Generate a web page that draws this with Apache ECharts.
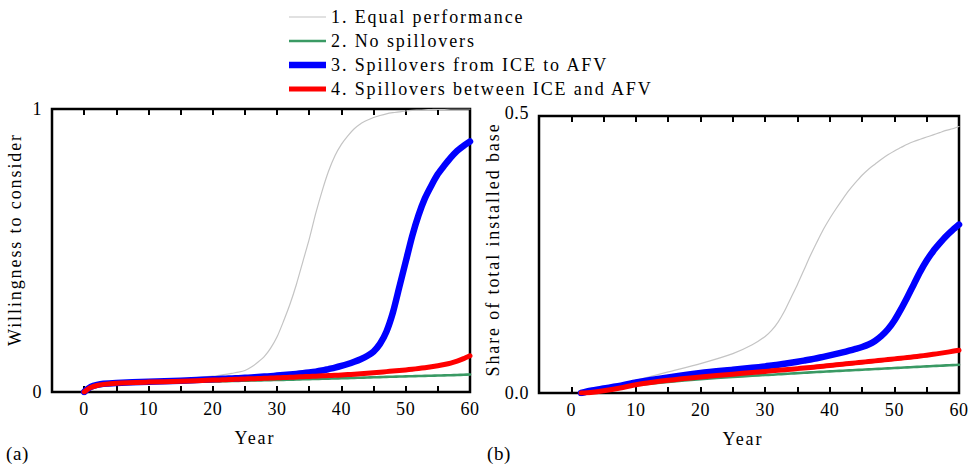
<!DOCTYPE html>
<html><head><meta charset="utf-8">
<script src="https://cdn.jsdelivr.net/npm/echarts@6/dist/echarts.min.js"></script>
<style>html,body{margin:0;padding:0;background:#fff}#c{width:978px;height:469px}</style>
</head><body><div id="c"></div>
<script>
const SERIES_NAMES = ['1. Equal performance','2. No spillovers','3. Spillovers from ICE to AFV','4. Spillovers between ICE and AFV'];
const X_TICK_LABELS = ['0','10','20','30','40','50','60'];
const Y_TICK_LABELS_A = ['0','1'];
const Y_TICK_LABELS_B = ['0.0','0.5'];

const YEARS_A = [0,0.5,1,2,3,5,10,15,20,21,22,23,24,25,26,27,28,29,30,31,32,33,34,35,36,37,38,39,40,41,42,43,44,45,46,47,48,49,50,51,52,53,54,55,56,57,58,59,60];
const EQUAL_A = [0,0.01,0.017,0.024,0.028,0.032,0.038,0.045,0.056,0.059,0.062,0.066,0.07,0.076,0.088,0.105,0.125,0.155,0.195,0.25,0.31,0.38,0.46,0.54,0.63,0.71,0.78,0.835,0.875,0.905,0.93,0.948,0.96,0.97,0.977,0.983,0.987,0.99,0.993,0.995,0.996,0.997,0.998,0.999,0.999,1,1,1,1];
const NOSPILL_A = [0,0.009,0.015,0.022,0.025,0.028,0.032,0.035,0.037,0.0376,0.0382,0.0388,0.0394,0.04,0.0405,0.041,0.0415,0.042,0.0425,0.043,0.0436,0.0442,0.0448,0.0454,0.046,0.0466,0.0472,0.0478,0.0485,0.0492,0.0499,0.0506,0.0513,0.052,0.0527,0.0534,0.054,0.0546,0.0552,0.0558,0.0564,0.057,0.0576,0.0582,0.0588,0.0594,0.06,0.061,0.062];
const ICE2AFV_A = [0,0.01,0.018,0.025,0.029,0.032,0.036,0.04,0.045,0.046,0.047,0.048,0.049,0.05,0.0515,0.053,0.0545,0.056,0.058,0.06,0.062,0.064,0.0665,0.069,0.072,0.076,0.081,0.086,0.092,0.099,0.107,0.116,0.127,0.143,0.17,0.213,0.28,0.37,0.46,0.55,0.625,0.685,0.73,0.77,0.8,0.828,0.852,0.87,0.885];
const BETWEEN_A = [0,0.009,0.016,0.023,0.027,0.031,0.035,0.038,0.042,0.0428,0.0436,0.0444,0.0452,0.046,0.0468,0.0476,0.0484,0.0492,0.05,0.051,0.052,0.053,0.054,0.055,0.056,0.057,0.058,0.059,0.06,0.0615,0.063,0.0645,0.066,0.068,0.07,0.072,0.074,0.076,0.078,0.0805,0.083,0.086,0.0895,0.093,0.097,0.102,0.109,0.118,0.128];

const YEARS_B = [1.5,3,5,8,10,15,20,25,28,30,31,32,33,34,35,36,37,38,39,40,41,42,43,44,45,46,47,48,49,50,51,52,53,54,55,56,57,58,59,60];
const EQUAL_B = [0,0.004,0.009,0.017,0.023,0.038,0.053,0.071,0.087,0.102,0.113,0.128,0.148,0.172,0.196,0.222,0.248,0.272,0.295,0.315,0.333,0.35,0.366,0.38,0.393,0.404,0.413,0.422,0.43,0.437,0.443,0.449,0.454,0.458,0.462,0.466,0.47,0.474,0.477,0.481];
const NOSPILL_B = [0,0.003,0.006,0.011,0.014,0.02,0.025,0.029,0.031,0.0325,0.033,0.0338,0.0345,0.0352,0.0358,0.0365,0.0372,0.0378,0.0384,0.039,0.0396,0.0402,0.0408,0.0414,0.042,0.0426,0.0432,0.0438,0.0444,0.045,0.0456,0.0462,0.0468,0.0474,0.048,0.0486,0.0492,0.0498,0.0504,0.051];
const ICE2AFV_B = [0,0.004,0.008,0.014,0.019,0.028,0.036,0.042,0.0455,0.048,0.0495,0.051,0.0528,0.0546,0.0565,0.0585,0.0605,0.0628,0.0652,0.0678,0.0705,0.0733,0.0763,0.0795,0.083,0.0875,0.094,0.103,0.115,0.131,0.151,0.173,0.196,0.219,0.239,0.256,0.27,0.283,0.294,0.304];
const BETWEEN_B = [0,0.001,0.004,0.01,0.015,0.023,0.029,0.034,0.037,0.039,0.04,0.041,0.042,0.043,0.044,0.045,0.046,0.0472,0.0484,0.0496,0.0508,0.052,0.0532,0.0544,0.0556,0.0568,0.058,0.0592,0.0604,0.0616,0.0628,0.064,0.0653,0.0667,0.0682,0.0698,0.0715,0.0733,0.0752,0.0772];

const FONT = '"Liberation Serif", "DejaVu Serif", serif';
const COLORS = ['#c4c4c4','#3a9a64','#0000ff','#ff0000'];
const WIDTHS = [1.2,2.6,6.5,5];
const LEGEND_ICONS = ['path://M0,0H37V1.2H0Z','path://M0,0H37V2.6H0Z','path://M0,0H37V6.5H0Z','path://M0,0H37V5H0Z'];

function pairs(xs, ys){ return xs.map((x,i)=>[x, ys[i]]); }

const chart = echarts.init(document.getElementById('c'), null, {renderer:'svg'});

function xAxisFor(gridIndex, top){
  return {
    type:'value', gridIndex, position: top ? 'top' : 'bottom',
    min:-5, max:60, interval:5,
    name: top ? '' : 'Year', nameLocation:'middle', nameGap:37,
    nameTextStyle:{fontFamily:FONT, fontSize:18, color:'#000', padding:[0,12,0,0]},
    axisLine:{show:false},
    axisTick:{show:true, inside:true, length:6, lineStyle:{color:'#000', width:2}},
    axisLabel:{show:!top, fontFamily:FONT, fontSize:18, color:'#000', margin:8,
      formatter:v=>{ const s=String(v); return X_TICK_LABELS.includes(s) ? s : ''; }},
    splitLine:{show:false}
  };
}
function yAxisFor(gridIndex, max, labels, name, gap, shift, topPad){
  return {
    type:'value', gridIndex, min:0, max:max, interval:max,
    name, nameLocation:'middle', nameGap:gap,
    nameTextStyle:{fontFamily:FONT, fontSize:18, color:'#000', padding:[0,0,0,shift]},
    axisLine:{show:false}, axisTick:{show:false},
    axisLabel:{fontFamily:FONT, fontSize:18, color:'#000', margin:10,
      rich:{t:{fontFamily:FONT, fontSize:18, color:'#000', padding:[0,0,topPad,0]}},
      formatter:(v)=>{ return v===0 ? labels[0] : '{t|' + labels[1] + '}'; }},
    splitLine:{show:false}
  };
}

const dataA = [EQUAL_A, NOSPILL_A, ICE2AFV_A, BETWEEN_A];
const dataB = [EQUAL_B, NOSPILL_B, ICE2AFV_B, BETWEEN_B];
const series = [];
[0,1].forEach(g=>{
  const d = g===0 ? dataA : dataB;
  const xs = g===0 ? YEARS_A : YEARS_B;
  SERIES_NAMES.forEach((n,i)=>{
    series.push({
      name:n, type:'line', xAxisIndex:g*2, yAxisIndex:g,
      data:pairs(xs, d[i]), smooth:0.25, symbol:'none', showSymbol:false,
      lineStyle:{color:COLORS[i], width:WIDTHS[i], cap:'round', join:'round'},
      itemStyle:{color:COLORS[i]}, z:2+i, animation:false
    });
  });
});

chart.setOption({
  animation:false,
  backgroundColor:'#fff',
  legend:{
    orient:'vertical', left:284, top:3, itemWidth:37, itemHeight:14, itemGap:6,
    symbolKeepAspect:true,
    data:SERIES_NAMES.map((n,i)=>({name:n, icon:LEGEND_ICONS[i], itemStyle:{color:COLORS[i], borderWidth:0}})),
    textStyle:{fontFamily:FONT, fontSize:18, color:'#000'}
  },
  grid:[
    {left:52, top:109, width:418, height:283, show:true, borderColor:'#000', borderWidth:2.5, backgroundColor:'transparent'},
    {left:539, top:116, width:420, height:277, show:true, borderColor:'#000', borderWidth:2.5, backgroundColor:'transparent'}
  ],
  xAxis:[xAxisFor(0,false), xAxisFor(0,true), xAxisFor(1,false), xAxisFor(1,true)],
  yAxis:[
    yAxisFor(0, 1, Y_TICK_LABELS_A, 'Willingness to consider', 28, 22, 0),
    yAxisFor(1, 0.5, Y_TICK_LABELS_B, 'Share of total installed base', 37, 10, 7)
  ],
  graphic:[
    {type:'text', left:6, top:444, style:{text:'(a)', font:'19px '+FONT, fill:'#000'}},
    {type:'text', left:487, top:444, style:{text:'(b)', font:'19px '+FONT, fill:'#000'}}
  ],
  series
});

// mimic the letter-spaced typesetting of the original figure
document.querySelectorAll('#c svg text').forEach(t=>{
  const s = t.textContent.trim();
  t.style.letterSpacing = /^[\d.()ab]+$/.test(s) ? '0.6px' : '1.9px';
});
</script></body></html>
